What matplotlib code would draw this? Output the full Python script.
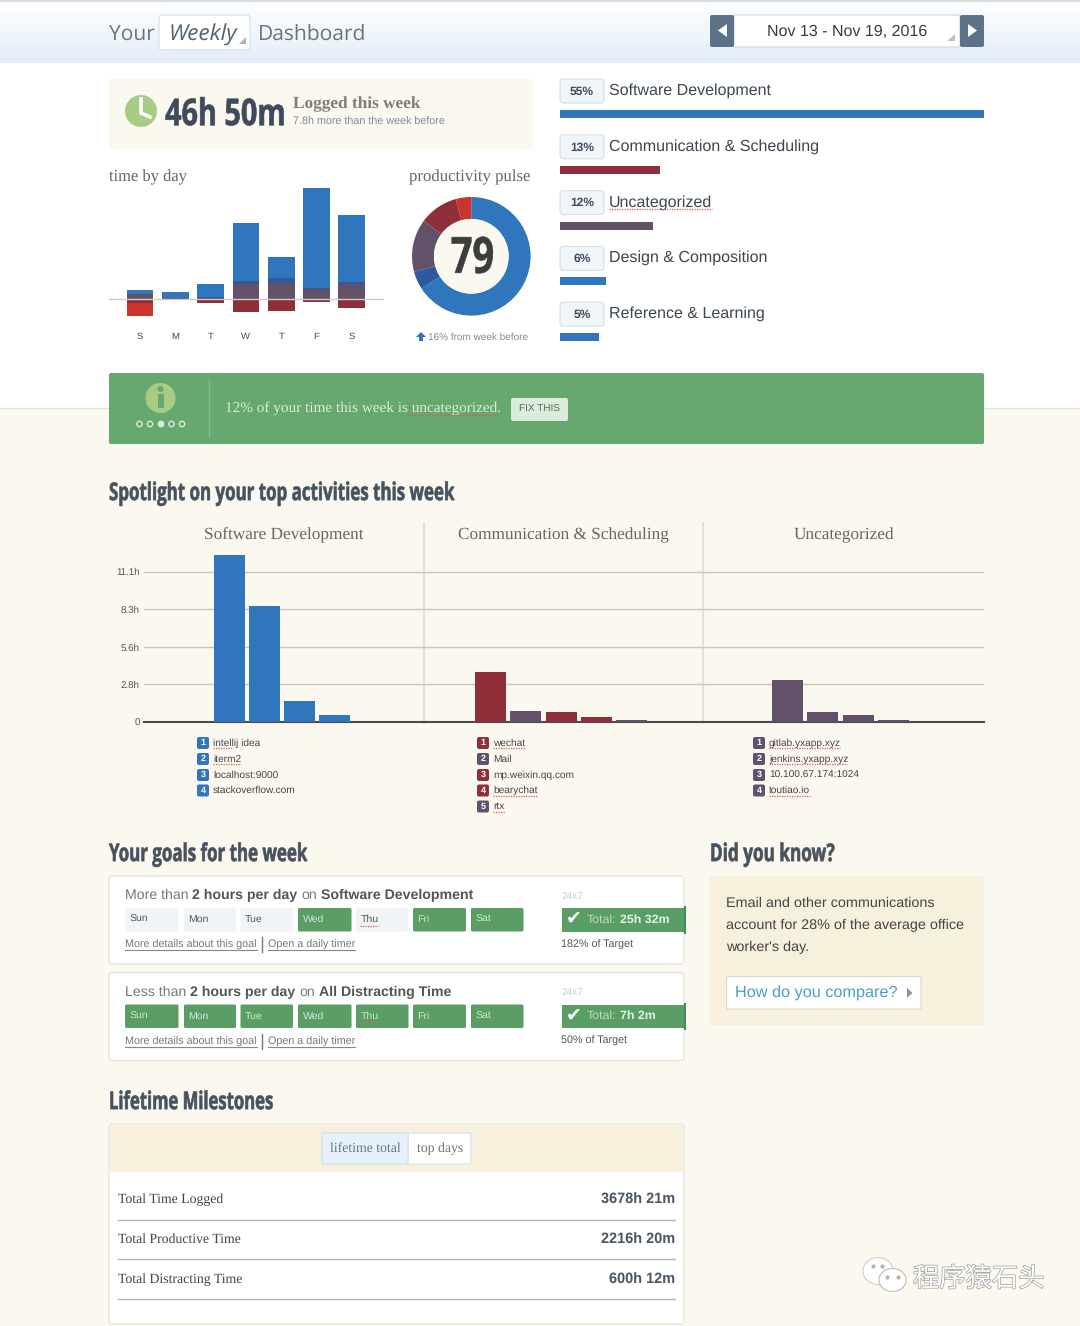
import matplotlib
matplotlib.use('Agg')
import matplotlib.pyplot as plt
import numpy as np
from matplotlib.colors import to_rgba
from matplotlib.font_manager import FontProperties
from matplotlib.patches import Circle, Ellipse, FancyBboxPatch, Polygon, Rectangle
from matplotlib.text import Text
from matplotlib.textpath import TextPath
from matplotlib.transforms import Affine2D, Bbox
import matplotlib.patheffects as pe

plt.rcParams['text.hinting'] = 'none'

# ### data
days = ['S', 'M', 'T', 'W', 'T', 'F', 'S']
very_prod = [0.46, 0.73, 1.50, 6.76, 2.47, 11.58, 7.72]
prod = [0.0, 0.0, 0.12, 0.39, 0.58, 0.12, 0.27]
neutral = [0.58, 0.08, 0.15, 1.70, 1.81, 1.12, 1.74]
distract = [0.42, 0.10, 0.50, 1.47, 1.39, 0.35, 1.00]
very_distract = [1.54, 0.0, 0.0, 0.0, 0.0, 0.0, 0.04]

pulse_share = [65.8, 5.0, 14.4, 10.6, 4.2]

top_cats = ['Software Development', 'Communication & Scheduling', 'Uncategorized',
            'Design & Composition', 'Reference & Learning']
top_pct = [55, 13, 12, 6, 5]

spot_titles = ['Software Development', 'Communication & Scheduling', 'Uncategorized']
spot_ticks = [0, 2.775, 5.55, 8.325, 11.1]
spot_ticklabels = ['0', '2.8h', '5.6h', '8.3h', '11.1h']
soft_hours = [12.3, 8.53, 1.53, 0.52]
comm_hours = [3.67, 0.79, 0.74, 0.37, 0.12]
uncat_hours = [3.08, 0.74, 0.54, 0.12]
soft_names = ['intellij idea', 'iterm2', 'localhost:9000', 'stackoverflow.com']
comm_names = ['wechat', 'Mail', 'mp.weixin.qq.com', 'bearychat', 'rtx']
uncat_names = ['gitlab.yxapp.xyz', 'jenkins.yxapp.xyz', '10.100.67.174:1024', 'toutiao.io']
soft_kind = ['b', 'b', 'b', 'b']
comm_kind = ['r', 'p', 'r', 'r', 'p']
uncat_kind = ['p', 'p', 'p', 'p']

week_days = ['Sun', 'Mon', 'Tue', 'Wed', 'Thu', 'Fri', 'Sat']
goal1_met = [0, 0, 0, 1, 0, 1, 1]
goal2_met = [1, 1, 1, 1, 1, 1, 1]

mile_names = ['Total Time Logged', 'Total Productive Time', 'Total Distracting Time']
mile_vals = ['3678h 21m', '2216h 20m', '600h 12m']

# ### style
BLUE = '#2f76bd'
DBLUE = '#2d5a9e'
PURPLE = '#635169'
RED = '#8f2f3a'
BRED = '#c9342c'
CREAM = '#fbf8ef'
TAN = '#f6f0dc'
GREEN = '#5a9e66'
BANNER = '#66a870'
SLATE = '#46535f'
KIND = {'b': BLUE, 'r': RED, 'p': PURPLE}

SANS = 'Liberation Sans'
SERIF = 'Liberation Serif'

W, H = 1080, 1326
fig = plt.figure(figsize=(W / 100, H / 100), dpi=100, facecolor='white')
bg = fig.add_axes([0, 0, 1, 1], zorder=0)
grad = np.linspace(0, 1, 64)[:, None, None] * (np.array([0.886, 0.933, 0.98]) - 1) + 1
bg.imshow(grad, extent=[0, W, 63, 0], aspect='auto')
bg.set_xlim(0, W)
bg.set_ylim(H, 0)
bg.axis('off')


class NarrowText(Text):
    # no condensed font is installed, so squeeze the bold headings sideways
    squeeze = 0.69
    px = 24

    def _layout_path(self):
        fp = self.get_fontproperties()
        path = TextPath((0, 0), self.get_text(), size=self.px, prop=fp)
        x, y = self.get_transform().transform(self.get_position())
        b = path.get_extents()
        off = -b.width * self.squeeze / 2 if self.get_ha() == 'center' else 0
        tr = Affine2D().scale(self.squeeze, 1).translate(x + off, y - self.px * 0.33)
        return path, tr

    def draw(self, renderer):
        path, tr = self._layout_path()
        col = to_rgba(self.get_color())
        gc = renderer.new_gc()
        gc.set_foreground(col)
        gc.set_linewidth(0.45)
        renderer.draw_path(gc, path, tr, col)
        gc.restore()

    def get_window_extent(self, renderer=None, dpi=None):
        path, tr = self._layout_path()
        return Bbox(path.transformed(tr).get_extents().get_points())


def narrow(x, y, s, px, color=SLATE, squeeze=0.69, ax=bg, ha='left'):
    t = NarrowText(x, y, s, color=color, ha=ha,
                   fontproperties=FontProperties(family='Open Sans', weight='bold'), zorder=6)
    t.px = px
    t.squeeze = squeeze
    ax.add_artist(t)
    return t


def txt(x, y, s, px, color='#444444', font=SANS, ax=bg, **kw):
    kw.setdefault('va', 'center')
    return ax.text(x, y, s, fontsize=px * 0.72, color=color, family=font, **kw)


def box(x0, y0, x1, y1, fc, ec='none', r=3, lw=0.8, z=1):
    p = FancyBboxPatch((x0, y0), x1 - x0, y1 - y0, boxstyle='round,pad=0,rounding_size=%s' % r,
                       fc=fc, ec=ec, lw=lw, zorder=z)
    bg.add_patch(p)


def tri(pts, color, z=3):
    bg.add_patch(Polygon(pts, closed=True, fc=color, ec='none', zorder=z))


def squig(x0, x1, y):
    bg.plot([x0, x1], [y, y], color='#e0584f', lw=0.9, ls=(0, (1, 1)), zorder=4)


def run_text(x, y, pieces, px):
    # pieces: (text, bold, color) placed one after another
    r = fig.canvas.get_renderer()
    for s, bold, col in pieces:
        t = txt(x, y, s, px, col, fontweight='bold' if bold else 'normal', zorder=5)
        x = t.get_window_extent(r).x1 + px * 0.27
    return x


def px_axes(x0, y0, x1, y1):
    a = fig.add_axes([x0 / W, 1 - y1 / H, (x1 - x0) / W, (y1 - y0) / H], zorder=2)
    a.patch.set_alpha(0)
    return a


# ### page background and header
bg.add_patch(Rectangle((0, 408), W, H - 408, fc=CREAM, ec='none', zorder=0.5))
bg.plot([0, W], [408, 408], color='#e8e4da', lw=1, zorder=0.6)
bg.plot([0, W], [0.5, 0.5], color='#d9dde2', lw=1.5, zorder=0.6)
txt(109, 35, 'Your', 21, '#66757f', 'Open Sans')
box(159, 15, 250, 50, 'white', '#d5dde5')
txt(169, 35, 'Weekly', 22.5, '#55636f', 'Open Sans', style='italic', zorder=3)
tri([(239, 44), (246, 44), (246, 37)], '#a9b2ba')
txt(258, 35, 'Dashboard', 21, '#66757f', 'Open Sans')

box(734, 15, 960, 47, 'white', '#cfd6dc', r=1)
box(710, 15, 734, 47, '#5a7389', r=2, z=2)
box(960, 15, 984, 47, '#5a7389', r=2, z=2)
tri([(727, 24), (727, 37), (718, 30.5)], 'white')
tri([(968, 24), (968, 37), (977, 30.5)], 'white')
txt(847, 31.5, 'Nov 13 - Nov 19, 2016', 16, '#3a3a3a', ha='center', zorder=3)
tri([(947, 41), (955, 41), (955, 34)], '#b9c1c8')

# ### logged this week
box(109, 79, 533, 149, CREAM)
bg.add_patch(Circle((141, 111), 16, fc='#a8cc86', ec='none', zorder=2))
bg.plot([141, 141, 150], [99, 113, 117], color='white', lw=2.6, zorder=3, solid_joinstyle='miter')
narrow(165, 113, '46h 50m', 37, '#3d4b5c', squeeze=0.78)
txt(293, 104, 'Logged this week', 17.2, '#666666', SERIF, zorder=3, fontweight='bold', alpha=0.85)
txt(293, 122, '7.8h more than the week before', 10.7, '#7c8b99', zorder=3)
txt(109, 177, 'time by day', 16.5, '#666666', SERIF)
txt(530, 177, 'productivity pulse', 16.7, '#666666', SERIF, ha='right')

# ### time by day
ax = px_axes(109, 180, 384, 325)
x = np.arange(len(days))
wd = 26.7 / 35.3
st1 = np.array(very_prod)
st2 = np.array(prod)
st3 = np.array(neutral)
ax.bar(x, st3, wd, color=PURPLE)
ax.bar(x, st2, wd, bottom=st3, color=DBLUE)
ax.bar(x, st1, wd, bottom=st3 + st2, color=BLUE)
ax.bar(x, -np.array(distract), wd, color=RED)
ax.bar(x, -np.array(very_distract), wd, bottom=-np.array(distract), color=BRED)
ax.axhline(0, color='#cfcbc8', lw=1, zorder=3)
ax.set_xlim((109 - 140) / 35.3, (384 - 140) / 35.3)
ax.set_ylim(-26 / 8.63, 119 / 8.63)
ax.set_xticks(x, days, fontsize=9.5 * 0.72, color='#444444', family=SANS)
ax.set_yticks([])
ax.tick_params(length=0, pad=5.5)
for s in ax.spines.values():
    s.set_visible(False)

# ### productivity pulse
ax = px_axes(412, 197, 530.6, 315.6)
ax.pie(pulse_share, colors=[BLUE, DBLUE, PURPLE, RED, BRED], startangle=90, counterclock=False,
       radius=1, wedgeprops=dict(width=0.37))
ax.set_xlim(-1, 1)
ax.set_ylim(-1, 1)
ax.add_patch(Circle((0, 0), 0.63, fc=CREAM, ec='none'))
narrow(0, 0, '79', 50, '#3d3d3d', squeeze=0.76, ax=ax, ha='center')
tri([(416, 337), (421, 332), (426, 337), (423, 337), (423, 341), (419, 341), (419, 337)], BLUE)
txt(428, 337, '16% from week before', 10, '#7c8b99')

# ### top categories
ax = px_axes(560, 86.1, 984, 365)
y = np.arange(len(top_pct))
ax.barh(y, top_pct, 8 / 55.8, color=[BLUE, RED, PURPLE, BLUE, BLUE])
ax.set_xlim(0, 55)
ax.set_ylim(4.5, -0.5)
ax.axis('off')
for i, (c, p) in enumerate(zip(top_cats, top_pct)):
    yy = 91 + 55.8 * i
    box(560, yy - 12, 604, yy + 12, '#f0f5fa', '#d5dfe8')
    txt(582, yy + 0.5, '%d%%' % p, 12, '#3d4b5c', ha='center', fontweight='bold', zorder=3)
    txt(609, yy - 0.5, c, 16, '#3c4650')
squig(609, 712, 209)

# ### banner
box(109, 373, 984, 444, BANNER, r=2)
bg.add_patch(Circle((160.5, 398), 15, fc='#a8cc86', ec='none', zorder=2))
bg.add_patch(Circle((160.5, 389), 3, fc=BANNER, ec='none', zorder=3))
bg.add_patch(Rectangle((157.5, 394), 6, 14, fc=BANNER, ec='none', zorder=3))
for i, dx in enumerate([139.5, 150, 161, 171.5, 182]):
    bg.add_patch(Circle((dx, 424), 2.7, fc='#dcecd8' if i == 2 else BANNER, ec='#dcecd8', lw=1, zorder=3))
bg.plot([208.5, 208.5], [380, 437], color='#86bb8f', lw=1, zorder=2)
txt(225, 408, '12% of your time this week is uncategorized.', 15.3, '#d9eed9', SERIF, zorder=3)
squig(409, 497, 415)
box(511, 398, 568, 421, '#dcebdc', r=2, z=2)
txt(539.5, 409.5, 'FIX THIS', 10, '#5a6b63', ha='center', zorder=3)

narrow(109, 492, 'Spotlight on your top activities this week', 24.5)

# ### spotlight panels
panels = [(144, 424, 229.0, soft_hours, soft_kind, 197, soft_names),
          (424, 703, 490.5, comm_hours, comm_kind, 477, comm_names),
          (703, 984, 787.5, uncat_hours, uncat_kind, 753, uncat_names)]
legend_y = [743, 759, 775, 790.5, 806.5]
for n, (left, right, c0, vals, kinds, lx, names) in enumerate(panels):
    ax = px_axes(left, 540, right, 722)
    x = np.arange(len(vals))
    ax.bar(x, vals, 31 / 35.3, color=[KIND[k] for k in kinds], zorder=3)
    ax.set_xlim((left - c0) / 35.3, (right - c0) / 35.3)
    ax.set_ylim(0, 182 / 13.55)
    ax.set_xticks([])
    ax.set_yticks(spot_ticks, spot_ticklabels if n == 0 else [])
    ax.grid(axis='y', color='#c9c7bd', lw=1)
    ax.tick_params(length=0, pad=3, labelsize=9.8 * 0.72, labelcolor='#555555')
    if n == 0:
        for t in ax.get_yticklabels():
            t.set_family(SANS)
    for k, s in ax.spines.items():
        s.set_visible(k == 'bottom')
    ax.spines['bottom'].set_color('#4a4a4a')
    ax.spines['bottom'].set_linewidth(1.5)
    txt((left + right) / 2, 535, spot_titles[n], 17.3, '#666666', SERIF, ha='center')
    for i, name in enumerate(names):
        yy = legend_y[i]
        box(lx, yy - 6, lx + 12, yy + 6, KIND[kinds[i]], r=2)
        txt(lx + 6, yy, str(i + 1), 9, 'white', ha='center', fontweight='bold', zorder=3)
        txt(lx + 16, yy, name, 10.1, '#444444', zorder=3)
for xx in [424, 703]:
    bg.plot([xx, xx], [523, 722], color='#e2e0d8', lw=1.5, zorder=1)
squig(213, 233, 748)
squig(213, 241, 764)
squig(493, 525, 748)
squig(493, 537, 795.5)
squig(493, 505, 811.5)
squig(769, 840, 748)
squig(769, 847, 764)
squig(769, 810, 795.5)

# ### goals
narrow(109, 853, 'Your goals for the week', 24.5)
cells = [(125, 178.5), (184, 236), (240.5, 293), (298, 351.5), (356, 408.5), (413, 466), (471, 523.5)]


def goal_card(top, lead, rest, target, total, met):
    box(109, top, 684, top + 88, 'white', '#e0e0d8')
    run_text(125, top + 19.5, [(lead, False, '#777777'), ('2 hours per day', True, '#555555'), ('on', False, '#777777'),
                               (rest, True, '#555555')], 14.1)
    cy0, cy1 = top + 32, top + 55.5
    for (a, b), d, m in zip(cells, week_days, met):
        box(a, cy0, b, cy1, GREEN if m else '#f1f4f7', r=1.5, z=2)
        txt(a + 4.5, (cy0 + cy1) / 2, d, 10.5, '#cfe6d2' if m else '#555555', zorder=3)
    squig(360, 378, cy1 - 6)
    r = fig.canvas.get_renderer()
    for sx, s in [(125, 'More details about this goal'), (268, 'Open a daily timer')]:
        t = txt(sx, top + 69, s, 10.7, '#777777', zorder=3)
        bg.plot([sx, t.get_window_extent(r).x1], [top + 74, top + 74], color='#888888', lw=0.8, zorder=3)
    bg.plot([262, 262], [top + 61, top + 76], color='#777777', lw=1, zorder=3)
    txt(561, top + 20, '24x7', 10, '#c5ccd4', zorder=3)
    bg.add_patch(Rectangle((561.5, cy0), 123, cy1 - cy0, fc=GREEN, ec='none', zorder=2))
    bg.add_patch(Rectangle((684, cy0 - 2), 2, cy1 - cy0 + 4, fc='#4a8a56', ec='none', zorder=2))
    txt(574, (cy0 + cy1) / 2, '\u2714', 19, 'white', 'DejaVu Sans', ha='center', zorder=3)
    run_text(587, (cy0 + cy1) / 2, [('Total:', False, '#b8dcc0'), (total, True, '#e4f2e6')], 12.4)
    txt(561, top + 68.5, target, 10.8, '#555555', zorder=3)


goal_card(876, 'More than', 'Software Development', '182% of Target', '25h 32m', goal1_met)
goal_card(972.5, 'Less than', 'All Distracting Time', '50% of Target', '7h 2m', goal2_met)

# ### did you know
narrow(710, 853, 'Did you know?', 24.5, squeeze=0.70)
box(710, 876, 984, 1025, TAN, r=2)
for yy, s in zip([903, 925.5, 947.5], ['Email and other communications',
                                      'account for 28% of the average office', "worker's day."]):
    txt(726, yy, s, 14.35, '#444444', zorder=3)
box(726.5, 976.5, 921, 1009, 'white', '#d8d8d0', r=1.5, z=2)
txt(735, 993, 'How do you compare?', 16.2, '#4a9fc8', zorder=3)
tri([(907, 988), (907, 998), (912.5, 993)], '#8a949c')

# ### milestones
narrow(109, 1101, 'Lifetime Milestones', 24.5, squeeze=0.68)
box(109, 1124, 684, 1324, 'white', '#e0e0d8')
bg.add_patch(Rectangle((110, 1125), 573, 47, fc=TAN, ec='none', zorder=1.5))
box(408, 1133, 471, 1164, 'white', '#d5dfe8', r=1.5, z=2)
box(322, 1133, 408, 1164, '#e6f1fb', '#d5dfe8', r=1.5, z=2)
txt(365, 1149, 'lifetime total', 13.7, '#6b7680', SERIF, ha='center', zorder=3)
txt(440, 1149, 'top days', 13.7, '#6b7680', SERIF, ha='center', zorder=3)
for i, (nm, v) in enumerate(zip(mile_names, mile_vals)):
    yy = 1200 + 39.8 * i
    txt(118, yy, nm, 13.7, '#444444', SERIF, zorder=3)
    txt(675, yy, v, 14.5, '#4a5560', ha='right', fontweight='bold', zorder=3)
    bg.plot([118, 675], [yy + 19.5, yy + 19.5], color='#b8b6ae', lw=1, zorder=3)

# ### watermark
tri([(868, 1279), (870, 1287), (878, 1283)], 'white', z=4)
bg.add_patch(Ellipse((878, 1271), 30, 27, fc='white', ec='#cfcfca', lw=0.8, zorder=4))
tri([(894, 1289), (902, 1295), (900, 1286)], 'white', z=4)
bg.add_patch(Ellipse((892.5, 1280), 27, 23, fc='white', ec='#bdbdb8', lw=0.8, zorder=4.1))
bg.plot([873, 882, 887, 898], [1266, 1266, 1277, 1277], ls='none', marker='o', ms=2, color='#b5b5b0', zorder=5)
t = txt(913, 1279, '程序猿石头', 26.3, 'white', 'Noto Sans CJK SC', zorder=5)
t.set_path_effects([pe.withStroke(linewidth=1.0, foreground='#9c9c98')])

fig.savefig('out.png', dpi=100)
